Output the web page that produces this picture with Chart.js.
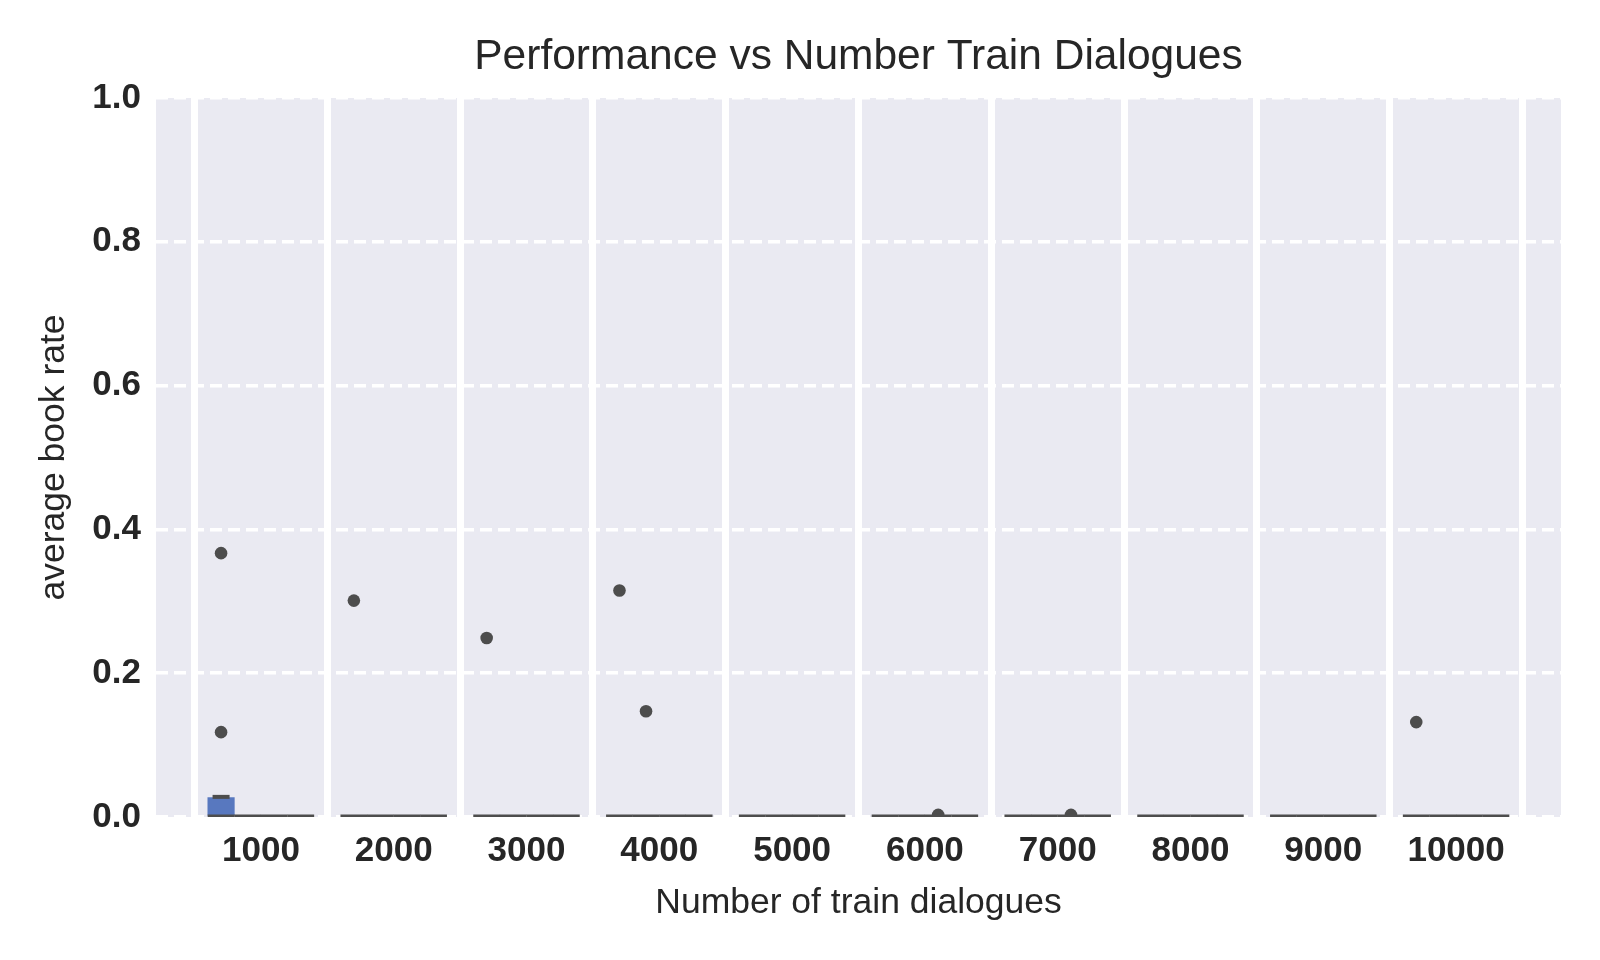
<!DOCTYPE html>
<html>
<head>
<meta charset="utf-8">
<script src="https://cdn.jsdelivr.net/npm/chart.js@4"></script>
<style>
  html, body { margin: 0; padding: 0; background: #ffffff; }
  #wrap { width: 1600px; height: 960px; }
</style>
</head>
<body>
<div id="wrap"><canvas id="myChart" width="1600" height="960"></canvas></div>
<script>
// categories on the x axis
var categories = ['1000', '2000', '3000', '4000', '5000', '6000', '7000', '8000', '9000', '10000'];
var yTicks = [0, 0.2, 0.4, 0.6, 0.8, 1.0];

// box stats per hue level (median / upper quartile / upper whisker), one value per category
var median = [
    [0, 0, 0, 0, 0, 0, 0, 0, 0, 0],
    [0, 0, 0, 0, 0, 0, 0, 0, 0, 0],
    [0, 0, 0, 0, 0, 0, 0, 0, 0, 0],
    [0, 0, 0, 0, 0, 0, 0, 0, 0, 0]
];
var upperQuartile = [
    [0.027, 0, 0, 0, 0, 0, 0, 0, 0, 0],
    [0, 0, 0, 0, 0, 0, 0, 0, 0, 0],
    [0, 0, 0, 0, 0, 0, 0, 0, 0, 0],
    [0, 0, 0, 0, 0, 0, 0, 0, 0, 0]
];
var upperWhisker = [
    [0.028, 0, 0, 0, 0, 0, 0, 0, 0, 0],
    [0, 0, 0, 0, 0, 0, 0, 0, 0, 0],
    [0, 0, 0, 0, 0, 0, 0, 0, 0, 0],
    [0, 0, 0, 0, 0, 0, 0, 0, 0, 0]
];

// outliers per hue level: [category index, value]
var outliers = [
    [[0, 0.367], [0, 0.118], [1, 0.301], [2, 0.249], [3, 0.315], [9, 0.132]],
    [[3, 0.147]],
    [[5, 0.003], [6, 0.003]],
    []
];

var GRAY = '#4d4d4d';
var BOX_COLOR = '#5878bf';
var FONT = '"Liberation Sans", Arial, sans-serif';

function hueX(i, h) {
    return i + (h - 1.5) * 0.2;
}

var boxData = [], medianData = [], capData = [], outlierData = [];
for (var h = 0; h < 4; h++) {
    for (var i = 0; i < categories.length; i++) {
        if (upperQuartile[h][i] > median[h][i]) {
            boxData.push({ x: hueX(i, h), y: [0, upperQuartile[h][i]] });
        }
        if (upperWhisker[h][i] > 0) {
            capData.push({ x: hueX(i, h), y: upperWhisker[h][i] });
        }
        medianData.push({ x: hueX(i, h), y: median[h][i] });
    }
    outliers[h].forEach(function (o) {
        outlierData.push({ x: hueX(o[0], h), y: o[1] });
    });
}

var plotBackground = {
    id: 'plotBackground',
    beforeDraw: function (chart) {
        var a = chart.chartArea, ctx = chart.ctx;
        ctx.save();
        ctx.fillStyle = '#eaeaf2';
        ctx.fillRect(a.left, a.top, a.right - a.left, a.bottom - a.top);
        ctx.restore();
    }
};

new Chart('myChart', {
    type: 'scatter',
    data: {
        datasets: [{
            type: 'bar',
            data: boxData,
            backgroundColor: BOX_COLOR,
            borderWidth: 0,
            barThickness: 26.5,
            grouped: false,
            clip: 0,
            order: 3
        },
        {
            data: capData,
            pointStyle: 'line',
            pointRadius: 8.5,
            pointHoverRadius: 8.5,
            borderColor: GRAY,
            pointBorderWidth: 4,
            clip: 0,
            order: 2
        },
        {
            data: medianData,
            pointStyle: 'line',
            pointRadius: 13.4,
            pointHoverRadius: 13.4,
            borderColor: GRAY,
            pointBorderWidth: 5,
            clip: 0,
            order: 1
        },
        {
            data: outlierData,
            pointRadius: 6.3,
            pointHoverRadius: 6.3,
            backgroundColor: GRAY,
            borderColor: GRAY,
            borderWidth: 0,
            clip: 0,
            order: 0
        }]
    },
    options: {
        responsive: false,
        animation: false,
        layout: { padding: { left: 0, right: 39, top: 0, bottom: 0 } },
        plugins: {
            legend: { display: false },
            tooltip: { enabled: false },
            title: {
                display: true,
                fullSize: false,
                text: 'Performance vs Number Train Dialogues',
                color: '#262626',
                font: { family: FONT, size: 42.5, weight: 'normal', lineHeight: 1 },
                padding: { top: 36, bottom: 19.5 }
            }
        },
        scales: {
            x: {
                type: 'linear',
                min: -0.79,
                max: 9.79,
                offset: false,
                bounds: 'data',
                afterBuildTicks: function (axis) {
                    axis.ticks = categories.map(function (c, i) { return { value: i }; });
                },
                afterFit: function (axis) { axis.height = 143; },
                grid: { offset: true, color: '#ffffff', lineWidth: 7, drawTicks: false },
                border: { display: false },
                ticks: {
                    autoSkip: false,
                    maxRotation: 0,
                    padding: 13,
                    color: '#262626',
                    font: { family: FONT, size: 35, weight: 'bold' },
                    callback: function (v) { return categories[v]; }
                },
                title: {
                    display: true,
                    text: 'Number of train dialogues',
                    color: '#262626',
                    font: { family: FONT, size: 35.5, weight: 'normal', lineHeight: 1.2 },
                    padding: { top: 0, bottom: 35 }
                }
            },
            y: {
                min: 0,
                max: 1,
                afterBuildTicks: function (axis) {
                    axis.ticks = yTicks.map(function (v) { return { value: v }; });
                },
                afterFit: function (axis) { axis.width = 156; },
                grid: { color: '#ffffff', lineWidth: 3.5, drawTicks: false },
                border: { display: false, dash: [12, 6] },
                ticks: {
                    padding: 15,
                    color: '#262626',
                    font: { family: FONT, size: 35, weight: 'bold' },
                    callback: function (v) { return v.toFixed(1); }
                },
                title: {
                    display: true,
                    text: 'average book rate',
                    color: '#262626',
                    font: { family: FONT, size: 35.5, weight: 'normal', lineHeight: 1.2 },
                    padding: { top: 33, bottom: 0 }
                }
            }
        }
    },
    plugins: [plotBackground]
});
</script>
</body>
</html>
